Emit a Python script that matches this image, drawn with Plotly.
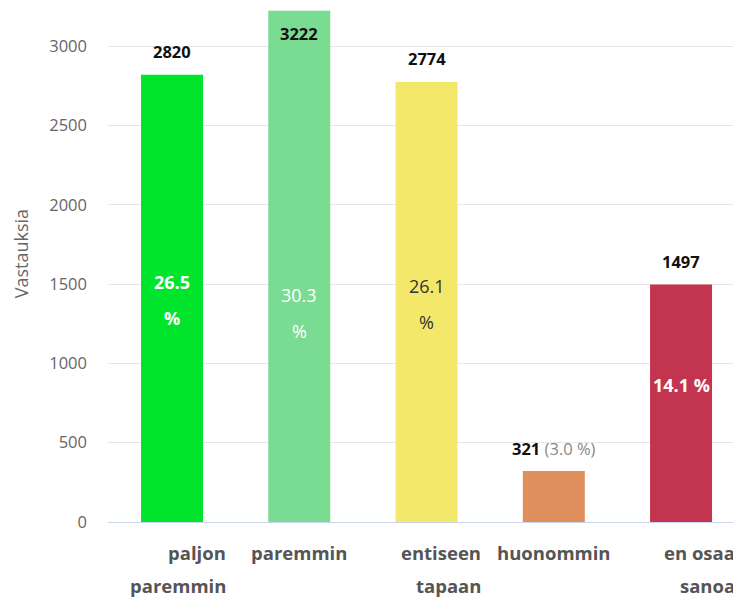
import plotly.graph_objects as go

categories = ["paljon paremmin", "paremmin", "entiseen tapaan", "huonommin", "en osaa sanoa"]
label_lines = [["paljon", "paremmin"], ["paremmin"], ["entiseen", "tapaan"], ["huonommin"], ["en osaa", "sanoa"]]
values = [2820, 3222, 2774, 321, 1497]
percents = [26.5, 30.3, 26.1, 3.0, 14.1]
colors = ["#00E52C", "#7ADB92", "#F3E86A", "#DE8F5B", "#C3354E"]

# label styling (not data)
pct_text_colors = ["#FFFFFF", "#FFFFFF", "#333333", None, "#FFFFFF"]
pct_bold = [True, False, False, False, True]
pct_wrapped = [True, True, True, False, False]
pct_inside = [True, True, True, False, True]
pct_shift_px = [-2, -47, -2, 0, 18]
y_ticks = [0, 500, 1000, 1500, 2000, 2500, 3000]
y_max = 3240

FONT = "Open Sans"

fig = go.Figure()
fig.add_trace(go.Bar(
    x=categories, y=values, marker=dict(color=colors, line=dict(width=0)),
    width=0.487, hoverinfo="skip", showlegend=False,
))

ann = []
for i, (c, v, p) in enumerate(zip(categories, values, percents)):
    if pct_inside[i]:
        txt = f"<b>{v}</b>"
    else:
        txt = f"<b>{v}</b> <span style='color:#888888'>({p:.1f} %)</span>"
    fits = v < 3100
    ann.append(dict(x=c, y=v, xref="x", yref="y", text=txt, showarrow=False,
                    yanchor="middle", yshift=23 if fits else -23,
                    font=dict(family=FONT, size=16.5, color="#111111")))
    if pct_inside[i]:
        if pct_wrapped[i]:
            lines = [f"{p:.1f}", "%"]
            shifts = [18, -18]
        else:
            lines = [f"{p:.1f} %"]
            shifts = [0]
        for ln, s in zip(lines, shifts):
            t = f"<b>{ln}</b>" if pct_bold[i] else ln
            ann.append(dict(x=c, y=v / 2, xref="x", yref="y", text=t,
                            showarrow=False, yanchor="middle", yshift=s + pct_shift_px[i],
                            font=dict(family=FONT, size=18, color=pct_text_colors[i])))
    lines = label_lines[i]
    if len(lines) > 1:
        for k, ln in enumerate(lines):
            ann.append(dict(x=c, y=0, xref="x", yref="paper", text=f"<b>{ln}</b>",
                            showarrow=False, xanchor="right", xshift=56,
                            yanchor="middle", yshift=-30 - 33 * k,
                            font=dict(family=FONT, size=18.5, color="#555555")))
    else:
        ann.append(dict(x=c, y=0, xref="x", yref="paper", text=f"<b>{lines[0]}</b>",
                        showarrow=False, xanchor="center",
                        yanchor="middle", yshift=-30,
                        font=dict(family=FONT, size=18.5, color="#555555")))

ann.append(dict(x=-0.138, y=0.522, xref="paper", yref="paper", text="Vastauksia",
                textangle=-90, showarrow=False, xanchor="center", yanchor="middle",
                font=dict(family=FONT, size=18, color="#666666")))

# the page body adds an 8px margin, so the figure is sized/offset to compensate
fig.update_layout(
    width=733, height=591,
    margin=dict(l=100, r=0, t=0, b=77),
    paper_bgcolor="white", plot_bgcolor="white",
    font=dict(family=FONT),
    annotations=ann,
    xaxis=dict(showticklabels=False, showgrid=False, zeroline=False,
               showline=True, linecolor="#CCD6EB", linewidth=1,
               range=[-0.503, 4.471], fixedrange=True),
    yaxis=dict(range=[0, y_max], tickvals=y_ticks, ticktext=[str(t) for t in y_ticks],
               showgrid=True, gridcolor="#E6E6E6", gridwidth=1, zeroline=False,
               tickfont=dict(family=FONT, size=16.5, color="#666666"),
               ticks="", ticklabelstandoff=20, fixedrange=True),
)

fig.write_html("out.html")
